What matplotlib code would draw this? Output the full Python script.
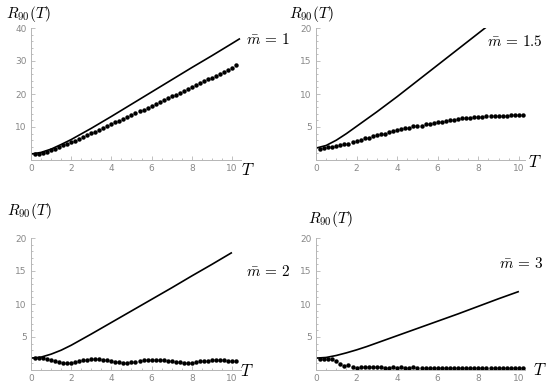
import numpy as np
import matplotlib.pyplot as plt
from matplotlib.ticker import MultipleLocator

plt.rcParams['mathtext.fontset'] = 'cm'

# T values of the dots (same for every panel)
t_dots = [0.2, 0.4, 0.6, 0.8, 1.0, 1.2, 1.4, 1.6, 1.8, 2.0,
          2.2, 2.4, 2.6, 2.8, 3.0, 3.2, 3.4, 3.6, 3.8, 4.0,
          4.2, 4.4, 4.6, 4.8, 5.0, 5.2, 5.4, 5.6, 5.8, 6.0,
          6.2, 6.4, 6.6, 6.8, 7.0, 7.2, 7.4, 7.6, 7.8, 8.0,
          8.2, 8.4, 8.6, 8.8, 9.0, 9.2, 9.4, 9.6, 9.8, 10.0, 10.2]

# m = 1
dots_1 = [1.8, 1.8, 2.0, 2.4, 2.9, 3.4, 3.9, 4.4, 4.9, 5.4,
          5.9, 6.4, 7.0, 7.5, 8.1, 8.6, 9.2, 9.7, 10.3, 10.8,
          11.4, 11.9, 12.5, 13.1, 13.6, 14.2, 14.7, 15.3, 15.9, 16.4,
          17.0, 17.6, 18.1, 18.7, 19.3, 19.8, 20.4, 21.0, 21.5, 22.1,
          22.7, 23.3, 23.8, 24.4, 25.0, 25.6, 26.2, 26.8, 27.4, 28.0, 28.9]
t_line_1 = [0, 0.5, 1, 1.5, 2, 2.5, 3, 4, 5, 6, 7, 8, 9, 10, 10.4]
line_1 = [1.8, 2.3, 3.3, 4.7, 6.2, 7.9, 9.6, 13.2, 16.9, 20.6, 24.3, 28.0, 31.6, 35.3, 36.8]

# m = 1.5
dots_2 = [1.6, 1.8, 1.9, 1.9, 2.1, 2.2, 2.4, 2.5, 2.7, 2.9,
          3.1, 3.3, 3.4, 3.6, 3.8, 3.9, 4.0, 4.3, 4.4, 4.6,
          4.7, 4.8, 4.9, 5.1, 5.2, 5.2, 5.4, 5.5, 5.6, 5.7,
          5.8, 5.9, 6.0, 6.1, 6.2, 6.3, 6.3, 6.4, 6.5, 6.5,
          6.5, 6.6, 6.6, 6.6, 6.7, 6.7, 6.7, 6.8, 6.8, 6.8, 6.8]
t_line_2 = [0, 0.5, 1, 1.5, 2, 2.5, 3, 4, 5, 6, 7, 8, 8.5]
line_2 = [1.8, 2.2, 3.0, 4.0, 5.1, 6.2, 7.3, 9.6, 12.0, 14.4, 16.8, 19.2, 20.4]

# m = 2
dots_3 = [1.8, 1.8, 1.75, 1.6, 1.45, 1.3, 1.15, 1.05, 1.0, 1.05,
          1.15, 1.3, 1.45, 1.55, 1.6, 1.6, 1.6, 1.55, 1.45, 1.35,
          1.25, 1.15, 1.1, 1.1, 1.15, 1.25, 1.35, 1.45, 1.5, 1.5,
          1.5, 1.5, 1.45, 1.4, 1.3, 1.25, 1.15, 1.1, 1.05, 1.1,
          1.2, 1.3, 1.35, 1.4, 1.45, 1.5, 1.5, 1.45, 1.4, 1.3, 1.3]
t_line_3 = [0, 0.5, 1, 1.5, 2, 2.5, 3, 4, 5, 6, 7, 8, 9, 10]
line_3 = [1.8, 1.95, 2.4, 3.0, 3.75, 4.6, 5.45, 7.2, 8.95, 10.7, 12.45, 14.25, 16.0, 17.8]

# m = 3
dots_4 = [1.7, 1.7, 1.7, 1.6, 1.3, 0.9, 0.6, 0.7, 0.4, 0.3,
          0.4, 0.4, 0.4, 0.4, 0.4, 0.4, 0.35, 0.3, 0.4, 0.3,
          0.45, 0.35, 0.3, 0.4, 0.3, 0.3, 0.3, 0.3, 0.3, 0.3,
          0.3, 0.3, 0.3, 0.3, 0.3, 0.3, 0.3, 0.3, 0.3, 0.3,
          0.3, 0.3, 0.3, 0.3, 0.3, 0.3, 0.3, 0.3, 0.3, 0.3, 0.3]
t_line_4 = [0, 0.5, 1, 1.5, 2, 2.5, 3, 4, 5, 6, 7, 8, 9, 10]
line_4 = [1.8, 1.9, 2.2, 2.6, 3.05, 3.55, 4.1, 5.2, 6.3, 7.4, 8.5, 9.65, 10.8, 11.9]

panels = [
    (dots_1, t_line_1, line_1, 40, [10, 20, 30, 40], 2, r'$\bar{m}\,=\,1$'),
    (dots_2, t_line_2, line_2, 20, [5, 10, 15, 20], 1, r'$\bar{m}\,=\,1.5$'),
    (dots_3, t_line_3, line_3, 20, [5, 10, 15, 20], 1, r'$\bar{m}\,=\,2$'),
    (dots_4, t_line_4, line_4, 20, [5, 10, 15, 20], 1, r'$\bar{m}\,=\,3$'),
]

W, H = 554, 392
fig = plt.figure(figsize=(W / 100, H / 100), dpi=100)

# axes boxes in pixels: left, x-axis row, top row, width
boxes = [(31, 160, 28, 210), (316, 160, 28, 209), (31, 370, 238, 210), (316, 370, 238, 209)]
xmax = [10.45, 10.3, 10.45, 10.3]
# label positions in pixels: R90 label, T label, m label (right edge)
r_pos = [(28, 14), (311, 14), (29, 211), (330, 219)]
t_pos = [(248, 170), (535, 162), (247, 371), (540, 370)]
m_pos = [(290, 40), (543, 42), (290, 271), (543, 263)]

for i, (dots, tl, ln, ytop, yt, ymin, mlab) in enumerate(panels):
    left, xrow, top, wid = boxes[i]
    ax = fig.add_axes([left / W, (H - xrow) / H, wid / W, (xrow - top) / H])
    ax.plot(tl, ln, color='black', lw=1.2, solid_capstyle='butt')
    ax.plot(t_dots, dots, 'o', color='black', ms=3.2, mew=0)
    ax.set_xlim(0, xmax[i])
    ax.set_ylim(0, ytop)
    ax.set_xticks([0, 2, 4, 6, 8, 10])
    ax.set_yticks(yt)
    ax.xaxis.set_minor_locator(MultipleLocator(0.5))
    ax.yaxis.set_minor_locator(MultipleLocator(ymin))
    for s in ['top', 'right']:
        ax.spines[s].set_visible(False)
    for s in ['left', 'bottom']:
        ax.spines[s].set_color('#b5b5b5')
        ax.spines[s].set_linewidth(0.7)
    ax.tick_params(which='both', direction='in', color='#b5b5b5', width=0.6,
                   labelsize=6.5, labelcolor='#888888', pad=3)
    ax.tick_params(which='major', length=3)
    ax.tick_params(which='minor', length=1.6)
    ax.patch.set_alpha(0)

    fig.text(r_pos[i][0] / W, 1 - r_pos[i][1] / H, r'$R_{90}(T)$', fontsize=11,
             ha='center', va='center')
    fig.text(t_pos[i][0] / W, 1 - t_pos[i][1] / H, r'$T$', fontsize=12,
             ha='center', va='center')
    fig.text(m_pos[i][0] / W, 1 - m_pos[i][1] / H, mlab, fontsize=11,
             ha='right', va='center')

fig.savefig('out.png', dpi=100)
